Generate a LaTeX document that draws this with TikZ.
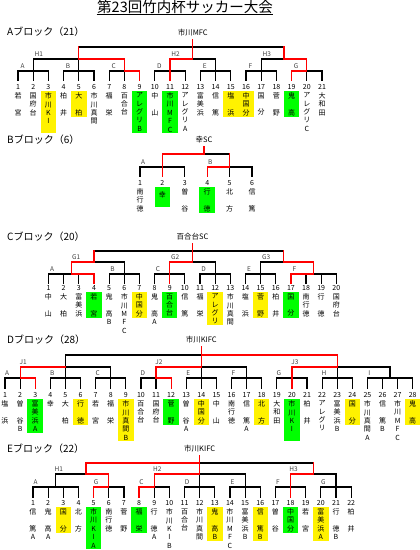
\documentclass[tikz,border=0pt]{standalone}
\usepackage{fontspec}
\setmainfont{Noto Sans CJK JP}
\usetikzlibrary{calc}

\tikzset{
  ln/.style={line width=1.2pt, line cap=rect},
  rd/.style={line width=1.2pt, line cap=rect, red},
  ttl/.style={font=\fontsize{14.5}{15}\selectfont, inner sep=0.5pt},
  blk/.style={font=\fontsize{10}{10}\selectfont, anchor=west, inner sep=0pt},
  hdr/.style={font=\fontsize{7.5}{8}\selectfont, inner sep=3pt},
  grp/.style={font=\fontsize{6.5}{7}\selectfont, text=black!75, inner sep=0.3pt, anchor=south},
  num/.style={font=\fontsize{7}{7}\selectfont, inner sep=0.5pt},
  nm/.style={font=\fontsize{7}{8.4}\selectfont, align=center, anchor=north,
    inner xsep=0pt, inner ysep=1.2pt, minimum width=15.5pt},
}
\newcommand\tw[2]{#1\\\mbox{}\\#2}

\begin{document}
\begin{tikzpicture}[x=1pt, y=-1pt]
\useasboundingbox (0,0) rectangle (420,550);

\node[ttl] (title) at (185,7) {第23回竹内杯サッカー大会};
\draw[line width=0.8pt] (title.south west) -- (title.south east);

% ---------- A block
\node[blk] (Ablk) at (7,32) {Aブロック（21）};
\foreach \i in {1,...,21} \node[num] (A\i) at ({18+(\i-1)*15.2},87) {\i};
\coordinate (Atop) at (0,47); \coordinate (Ah) at (0,59);
\coordinate (Ag) at (0,71); \coordinate (At) at (0,80); \coordinate (Ahy) at (0,33);
\coordinate (Am2) at ($(A12)!.5!(A13)$); \coordinate (Am3) at ($(A18)!.5!(A19)$);
\node[hdr] (Ahdr) at (Am2 |- Ahy) {市川MFC};

\foreach \i in {1,...,21} \draw[ln] (A\i |- At) -- (A\i |- Ag);
\foreach \a/\b/\m in {1/3/2,4/6/5,7/9/8,10/12/11,13/15/14,16/18/17,19/21/20}
  \draw[ln] (A\a |- Ag) -- (A\b |- Ag) (A\m |- Ag) -- (A\m |- Ah);
\draw[ln] (A2 |- Ah) -- (A8 |- Ah) (A5 |- Ah) -- (A5 |- Atop);
\draw[ln] (A11 |- Ah) -- (A14 |- Ah) (Am2 |- Ah) -- (Ahdr.south);
\draw[ln] (A17 |- Ah) -- (A20 |- Ah) (Am3 |- Ah) -- (Am3 |- Atop);
\draw[ln] (A5 |- Atop) -- (Am3 |- Atop);
\draw[rd] (A9 |- At) -- (A9 |- Ag) -- (A8 |- Ag) -- (A8 |- Ah) -- (A5 |- Ah) -- (A5 |- Atop);
\draw[rd] (A11 |- At) -- (A11 |- Ah) -- (Am2 |- Ah) -- (Ahdr.south);
\draw[rd] (A19 |- At) -- (A19 |- Ag) -- (A20 |- Ag) -- (A20 |- Ah) -- (Am3 |- Ah) -- (Am3 |- Atop);

\foreach \l/\i in {A/1,B/4,C/7,D/10,E/13,F/16,G/19}
  \node[grp] (Al\l) at ([xshift=4.5pt,yshift=2pt]A\i |- Ag) {\l};
\foreach \l/\i in {1/2,2/11,3/17}
  \node[grp] (AH\l) at ([xshift=5.5pt,yshift=2pt]A\i |- Ah) {H\l};

\foreach \i/\n/\c in {1/{\tw{若}{宮}}/none, 2/{国\\府\\台}/none, 3/{市\\川\\K\\I\\\mbox{}}/yellow,
  4/{\tw{柏}{井}}/none, 5/{\tw{大}{柏}}/yellow, 6/{市\\川\\真\\間}/none, 7/{\tw{福}{栄}}/none,
  8/{百\\合\\台}/none, 9/{ア\\レ\\グ\\リ\\B}/green, 10/{\tw{中}{山}}/none,
  11/{市\\川\\M\\F\\C}/green, 12/{ア\\レ\\グ\\リ\\A}/none, 13/{富\\美\\浜}/none,
  14/{\tw{信}{篤}}/none, 15/{\tw{塩}{浜}}/yellow, 16/{中\\国\\分}/yellow, 17/{\tw{国}{分}}/none,
  18/{\tw{菅}{野}}/none, 19/{\tw{鬼}{高}}/green, 20/{ア\\レ\\グ\\リ\\C}/none, 21/{大\\和\\田}/none}
  \node[nm, fill=\c] (An\i) at ([yshift=-1pt]A\i.south) {\n};

% ---------- B block
\node[blk] (Bblk) at (7,140) {Bブロック（6）};
\foreach \i in {1,...,6} \node[num] (B\i) at ({140+(\i-1)*22.4},183) {\i};
\coordinate (Btop) at (0,154); \coordinate (Bg) at (0,167);
\coordinate (Bt) at (0,176); \coordinate (Bhy) at (0,140);
\coordinate (Bm) at ($(B2)!.62!(B5)$);
\node[hdr] (Bhdr) at (Bm |- Bhy) {幸SC};

\foreach \i in {1,...,6} \draw[ln] (B\i |- Bt) -- (B\i |- Bg);
\draw[ln] (B1 |- Bg) -- (B3 |- Bg) (B4 |- Bg) -- (B6 |- Bg);
\draw[ln] (B2 |- Bg) -- (B2 |- Btop) -- (B5 |- Btop) -- (B5 |- Bg);
\draw[rd] (B2 |- Bt) -- (B2 |- Btop) -- (Bm |- Btop) -- (Bhdr.south);
\draw[rd] (B4 |- Bt) -- (B4 |- Bg) -- (B5 |- Bg) -- (B5 |- Btop);

\foreach \l/\i in {A/1,B/4}
  \node[grp] (Bl\l) at ([xshift=3pt,yshift=2pt]B\i |- Bg) {\l};

\foreach \i/\n/\c in {1/{南\\行\\徳}/none, 2/{\mbox{}\\幸\\\mbox{}}/green, 3/{\tw{曽}{谷}}/none,
  4/{\tw{行}{徳}}/green, 5/{\tw{北}{方}}/none, 6/{\tw{信}{篤}}/none}
  \node[nm, fill=\c] (Bn\i) at ([yshift=-1pt]B\i.south) {\n};

% ---------- C block
\node[blk] (Cblk) at (7,237) {Cブロック（20）};
\foreach \i in {1,...,20} \node[num] (C\i) at ({48.5+(\i-1)*15.15},288) {\i};
\coordinate (Ctop) at (0,251); \coordinate (Ch) at (0,262);
\coordinate (Cg) at (0,274); \coordinate (Ct) at (0,283); \coordinate (Chy) at (0,237);
\coordinate (CmA) at ($(C2)!.5!(C3)$); \coordinate (CmF) at ($(C18)!.5!(C19)$);
\coordinate (Cm2) at ($(C10)!.5!(C11)$); \coordinate (Cm3) at ($(C16)!.5!(C17)$);
\node[hdr] (Chdr) at (Cm2 |- Chy) {百合台SC};

\foreach \i in {1,...,20} \draw[ln] (C\i |- Ct) -- (C\i |- Cg);
\draw[ln] (C1 |- Cg) -- (C4 |- Cg) (CmA |- Cg) -- (CmA |- Ch);
\foreach \a/\b/\m in {5/7/6,8/10/9,11/13/12,14/16/15}
  \draw[ln] (C\a |- Cg) -- (C\b |- Cg) (C\m |- Cg) -- (C\m |- Ch);
\draw[ln] (C17 |- Cg) -- (C20 |- Cg) (CmF |- Cg) -- (CmF |- Ch);
\draw[ln] (CmA |- Ch) -- (C6 |- Ch) (C4 |- Ch) -- (C4 |- Ctop);
\draw[ln] (C9 |- Ch) -- (C12 |- Ch) (Cm2 |- Ch) -- (Chdr.south);
\draw[ln] (C15 |- Ch) -- (CmF |- Ch) (Cm3 |- Ch) -- (Cm3 |- Ctop);
\draw[ln] (C4 |- Ctop) -- (Cm3 |- Ctop);
\draw[rd] (C4 |- Ct) -- (C4 |- Cg) -- (CmA |- Cg) -- (CmA |- Ch) -- (C4 |- Ch) -- (C4 |- Ctop);
\draw[rd] (C9 |- Ct) -- (C9 |- Ch) -- (Cm2 |- Ch) -- (Chdr.south);
\draw[rd] (C17 |- Ct) -- (C17 |- Cg) -- (CmF |- Cg) -- (CmF |- Ch) -- (Cm3 |- Ch) -- (Cm3 |- Ctop);

\foreach \l/\i in {A/1,B/5,C/8,D/11,E/14,F/17}
  \node[grp] (Cl\l) at ([xshift=3.5pt,yshift=2pt]C\i |- Cg) {\l};
\node[grp] (CG1) at ([xshift=5pt,yshift=2pt]CmA |- Ch) {G1};
\node[grp] (CG2) at ([xshift=5.5pt,yshift=2pt]C9 |- Ch) {G2};
\node[grp] (CG3) at ([xshift=5.5pt,yshift=2pt]C15 |- Ch) {G3};

\foreach \i/\n/\c in {1/{\tw{中}{山}}/none, 2/{\tw{大}{柏}}/none, 3/{富\\美\\浜}/none,
  4/{\tw{若}{宮}}/green, 5/{\tw{鬼}{高}\\B}/none, 6/{市\\川\\M\\F\\C}/none, 7/{中\\国\\分}/yellow,
  8/{\tw{鬼}{高}\\A}/none, 9/{百\\合\\台}/green, 10/{\tw{信}{篤}}/none, 11/{\tw{福}{栄}}/none,
  12/{ア\\レ\\グ\\リ}/yellow, 13/{市\\川\\真\\間}/none, 14/{\tw{塩}{浜}}/none,
  15/{\tw{菅}{野}}/yellow, 16/{\tw{柏}{井}}/none, 17/{\tw{国}{分}}/green, 18/{南\\行\\徳}/none,
  19/{\tw{行}{徳}}/none, 20/{国\\府\\台}/none}
  \node[nm, fill=\c] (Cn\i) at ([yshift=-1pt]C\i.south) {\n};

% ---------- D block
\node[blk] (Dblk) at (7,340) {Dブロック（28）};
\foreach \i in {1,...,28} \node[num] (D\i) at ({5+(\i-1)*15.1},395) {\i};
\coordinate (Dtop) at (0,355); \coordinate (Dh) at (0,367);
\coordinate (Dg) at (0,378); \coordinate (Dt) at (0,388); \coordinate (Dhy) at (0,340);
\coordinate (DmI) at ($(D26)!.5!(D27)$);
\node[hdr] (Dhdr) at (D14 |- Dhy) {市川KIFC};

\foreach \i in {1,...,28} \draw[ln] (D\i |- Dt) -- (D\i |- Dg);
\foreach \a/\b/\m in {1/3/2,4/6/5,7/9/8,10/12/11,13/15/14,16/18/17,19/21/20,22/24/23}
  \draw[ln] (D\a |- Dg) -- (D\b |- Dg) (D\m |- Dg) -- (D\m |- Dh);
\draw[ln] (D25 |- Dg) -- (D28 |- Dg) (DmI |- Dg) -- (DmI |- Dh);
\draw[ln] (D2 |- Dh) -- (D8 |- Dh) (D5 |- Dh) -- (D5 |- Dtop);
\draw[ln] (D11 |- Dh) -- (D17 |- Dh) (D14 |- Dh) -- (Dhdr.south);
\draw[ln] (D20 |- Dh) -- (DmI |- Dh) (D23 |- Dh) -- (D23 |- Dtop);
\draw[ln] (D5 |- Dtop) -- (D23 |- Dtop);
\draw[rd] (D3 |- Dt) -- (D3 |- Dg) -- (D2 |- Dg) -- (D2 |- Dh) -- (D5 |- Dh);
\draw[rd] (D12 |- Dt) -- (D12 |- Dg) -- (D11 |- Dg) -- (D11 |- Dh) -- (D14 |- Dh) -- (Dhdr.south);
\draw[rd] (D20 |- Dt) -- (D20 |- Dh) -- (D23 |- Dh) -- (D23 |- Dtop) -- (D14 |- Dtop);

\foreach \l/\i in {A/1,B/4,C/7,D/10,E/13,F/16,G/19,H/22,I/25}
  \node[grp] (Dl\l) at ([xshift=2pt,yshift=2pt]D\i |- Dg) {\l};
\foreach \l/\i in {1/2,2/11,3/20}
  \node[grp] (DJ\l) at ([xshift=3pt,yshift=2pt]D\i |- Dh) {J\l};

\foreach \i/\n/\c in {1/{\tw{塩}{浜}}/none, 2/{\tw{曽}{谷}\\B}/none, 3/{富\\美\\浜\\A}/green,
  4/{幸}/none, 5/{\tw{大}{柏}}/none, 6/{\tw{行}{徳}}/yellow, 7/{\tw{若}{宮}}/none,
  8/{\tw{福}{栄}}/none, 9/{市\\川\\真\\間\\B}/yellow, 10/{百\\合\\台}/none, 11/{国\\府\\台}/none,
  12/{\tw{菅}{野}}/green, 13/{\tw{曽}{谷}\\A}/none, 14/{中\\国\\分}/yellow, 15/{\tw{中}{山}}/none,
  16/{南\\行\\徳}/none, 17/{\tw{信}{篤}\\A}/none, 18/{\tw{北}{方}}/yellow, 19/{大\\和\\田}/none,
  20/{市\\川\\K\\I\\\mbox{}}/green, 21/{\tw{柏}{井}}/none, 22/{ア\\レ\\グ\\リ}/none,
  23/{富\\美\\浜\\B}/none, 24/{\tw{国}{分}}/yellow, 25/{市\\川\\真\\間\\A}/none,
  26/{\tw{信}{篤}\\B}/none, 27/{市\\川\\M\\F\\C}/none, 28/{\tw{鬼}{高}}/yellow}
  \node[nm, fill=\c] (Dn\i) at ([yshift=-1pt]D\i.south) {\n};

% ---------- E block
\node[blk] (Eblk) at (7,449) {Eブロック（22）};
\foreach \i in {1,...,22} \node[num] (E\i) at ({33+(\i-1)*15.15},503) {\i};
\coordinate (Etop) at (0,463); \coordinate (Eh) at (0,474);
\coordinate (Eg) at (0,487); \coordinate (Et) at (0,497); \coordinate (Ehy) at (0,449);
\coordinate (EmA) at ($(E2)!.5!(E3)$); \coordinate (Em1) at ($(E4)!.5!(E5)$);
\coordinate (Em3) at ($(E19)!.5!(E20)$);
\node[hdr] (Ehdr) at (E12 |- Ehy) {市川KIFC};

\foreach \i in {1,...,22} \draw[ln] (E\i |- Et) -- (E\i |- Eg);
\draw[ln] (E1 |- Eg) -- (E4 |- Eg) (EmA |- Eg) -- (EmA |- Eh);
\foreach \a/\b/\m in {5/7/6,8/10/9,11/13/12,14/16/15,17/19/18,20/22/21}
  \draw[ln] (E\a |- Eg) -- (E\b |- Eg) (E\m |- Eg) -- (E\m |- Eh);
\draw[ln] (EmA |- Eh) -- (E6 |- Eh) (Em1 |- Eh) -- (Em1 |- Etop);
\draw[ln] (E9 |- Eh) -- (E15 |- Eh) (E12 |- Eh) -- (Ehdr.south);
\draw[ln] (E18 |- Eh) -- (E21 |- Eh) (Em3 |- Eh) -- (Em3 |- Etop);
\draw[ln] (Em1 |- Etop) -- (Em3 |- Etop);
\draw[rd] (E5 |- Et) -- (E5 |- Eg) -- (E6 |- Eg) -- (E6 |- Eh) -- (Em1 |- Eh) -- (Em1 |- Etop)
  -- (E12 |- Etop) -- (Ehdr.south);
\draw[rd] (E8 |- Et) -- (E8 |- Eg) -- (E9 |- Eg) -- (E9 |- Eh) -- (E12 |- Eh) -- (E12 |- Etop);
\draw[rd] (E18 |- Et) -- (E18 |- Eh) -- (Em3 |- Eh) -- (Em3 |- Etop);

\foreach \l/\i in {A/1,G/5,C/8,D/11,E/14,F/17,G/20}
  \node[grp] (El\i) at ([xshift=2.5pt,yshift=2pt]E\i |- Eg) {\l};
\node[grp] (EH1) at ([xshift=3pt,yshift=2pt]EmA |- Eh) {H1};
\node[grp] (EH2) at ([xshift=3pt,yshift=2pt]E9 |- Eh) {H2};
\node[grp] (EH3) at ([xshift=3pt,yshift=2pt]E18 |- Eh) {H3};

\foreach \i/\n/\c in {1/{\tw{信}{篤}\\A}/none, 2/{\tw{鬼}{高}\\A}/none, 3/{\tw{国}{分}}/yellow,
  4/{\tw{北}{方}}/none, 5/{市\\川\\K\\I\\A}/green, 6/{南\\行\\徳}/none, 7/{\tw{菅}{野}}/none,
  8/{\tw{福}{栄}}/green, 9/{\tw{行}{徳}\\A}/none, 10/{市\\川\\K\\I\\B}/none, 11/{百\\合\\台}/none,
  12/{市\\川\\真\\間}/none, 13/{\tw{鬼}{高}\\B}/yellow, 14/{市\\川\\M\\F\\C}/none,
  15/{富\\美\\浜\\B}/none, 16/{\tw{信}{篤}\\B}/yellow, 17/{\tw{曽}{谷}}/none, 18/{中\\国\\分}/green,
  19/{\tw{若}{宮}}/none, 20/{富\\美\\浜\\A}/yellow, 21/{\tw{行}{徳}\\B}/none, 22/{\tw{柏}{井}}/none}
  \node[nm, fill=\c] (En\i) at ([yshift=-1pt]E\i.south) {\n};
\end{tikzpicture}
\end{document}
